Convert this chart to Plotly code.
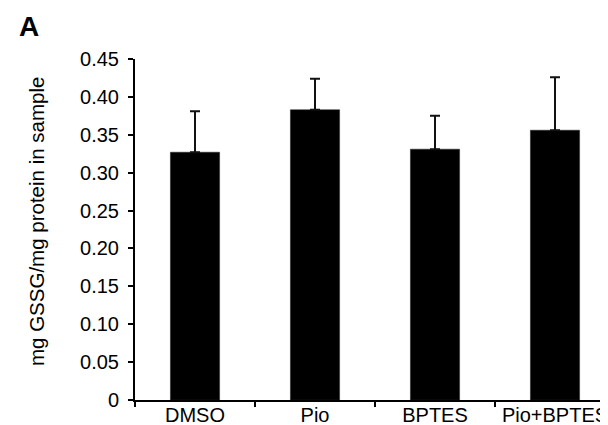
import plotly.graph_objects as go

categories = ["DMSO", "Pio", "BPTES", "Pio+BPTES"]
means = [0.327, 0.383, 0.331, 0.356]
errors_up = [0.054, 0.041, 0.044, 0.070]
y_ticks = [0, 0.05, 0.10, 0.15, 0.20, 0.25, 0.30, 0.35, 0.40, 0.45]
y_tick_labels = ["0", "0.05", "0.10", "0.15", "0.20", "0.25", "0.30", "0.35", "0.40", "0.45"]

FONT = "Liberation Sans, Arial, sans-serif"

fig = go.Figure(go.Bar(
    x=categories, y=means, width=0.41,
    marker=dict(color="black", line=dict(color="#222222", width=0.5)),
    error_y=dict(type="data", array=errors_up, arrayminus=[0]*len(errors_up),
                 symmetric=False, color="#111111", thickness=2, width=5),
))

L, R, T, B = 127, 1, 51, 33
W, H = 608, 425
pw, ph = W - L - R, H - T - B

fig.update_layout(
    width=W, height=H,
    margin=dict(l=L, r=R, t=T, b=B, autoexpand=False),
    plot_bgcolor="white", paper_bgcolor="white",
    font=dict(family=FONT, size=20, color="black"),
    showlegend=False,
    xaxis=dict(type="category", range=[-0.5, 3.5], showline=True, linecolor="black", linewidth=2,
               ticks="outside", tickson="boundaries", ticklen=5, tickwidth=2, tickcolor="black",
               showgrid=False, zeroline=False, tickfont=dict(size=20), automargin=False,
               ticklabelstandoff=-4),
    yaxis=dict(range=[0, 0.45], tickvals=y_ticks, ticktext=y_tick_labels,
               showline=True, linecolor="black", linewidth=2, ticks="outside", ticklen=5,
               tickwidth=2, tickcolor="black", showgrid=False, zeroline=False,
               ticklabelstandoff=5, tickfont=dict(size=20), automargin=False),
    annotations=[
        dict(text="mg GSSG/mg protein in sample", textangle=-90, showarrow=False,
             xref="paper", yref="paper", x=(28 - L) / pw, y=(H - B - 214) / ph,
             xanchor="center", yanchor="middle", font=dict(size=20.5)),
        dict(text="<b>A</b>", showarrow=False, xref="paper", yref="paper",
             x=(9 - L) / pw, y=(H - B - 1) / ph, xanchor="left", yanchor="top",
             font=dict(size=28)),
    ],
)

fig.write_html("out.html")
